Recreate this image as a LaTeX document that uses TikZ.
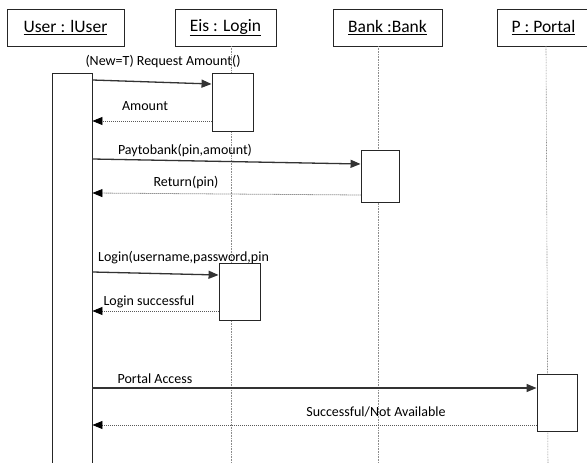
\documentclass[tikz,border=0pt]{standalone}
\usepackage{fontspec}
\setmainfont{Carlito}
\usetikzlibrary{arrows.meta}
\begin{document}
\begin{tikzpicture}[x=1pt,y=-1pt,
  head/.style={draw=black!85, line width=0.9pt, minimum height=37pt, inner sep=0pt, font=\fontsize{17.5}{20}\selectfont},
  act/.style={draw=black!85, fill=white, line width=0.9pt, inner sep=0pt},
  life/.style={draw=black!45, line width=0.6pt, dash pattern=on 0.8pt off 0.8pt},
  call/.style={draw=black!80, line width=1.3pt, -{Triangle[length=10pt,width=8pt]}},
  reply/.style={draw=black!65, line width=0.8pt, dash pattern=on 1pt off 1pt, -{Triangle[length=10pt,width=8pt,color=black,fill=black]}},
  lbl/.style={inner sep=0pt, font=\fontsize{14}{16}\selectfont, text=black},
]
\useasboundingbox (0,0) rectangle (587,463);
% heads
\node[head, minimum width=117pt] (user) at (65.5,27.5) {\underline{User : lUser}};
\node[head, minimum width=101pt] (eis) at (225.5,27.5) {\underline{Eis : Login}};
\node[head, minimum width=109pt] (bank) at (387.5,27.5) {\underline{Bank :Bank}};
\node[head, minimum width=93pt] (portal) at (543.5,27.5) {\underline{P : Portal}};
% lifelines
\coordinate (eisT) at (231,46);  \coordinate (eisB) at (231,470);
\coordinate (bankT) at (378,46); \coordinate (bankB) at (378,470);
\coordinate (porT) at (546,46);  \coordinate (porB) at (548,470);
\draw[life] (eisT) -- (eisB);
\draw[life] (bankT) -- (bankB);
\draw[life] (porT) -- (porB);
% activations
\node[act, minimum width=40pt, minimum height=402pt] (ua) at (72,274) {};
\node[act, minimum width=41pt, minimum height=58pt] (e1) at (232.5,102) {};
\node[act, minimum width=38pt, minimum height=52pt] (b1) at (380,176) {};
\node[act, minimum width=41pt, minimum height=57pt] (e2) at (239.5,291.5) {};
\node[act, minimum width=40pt, minimum height=57pt] (p1) at (557,402.5) {};
% messages
\node[lbl] (l1) at (163,62) {(New=T) Request Amount()};
\draw[call] (ua.east |- 0,80) -- (e1.west |- 0,84);
\node[lbl] (l2) at (145,106) {Amount};
\draw[reply] (e1.west |- 0,121) -- (ua.east |- 0,121);
\node[lbl] (l3) at (185,151) {Paytobank(pin,amount)};
\draw[call] (ua.east |- 0,159) -- (b1.west |- 0,164);
\node[lbl] (l4) at (186,183) {Return(pin)};
\draw[reply] (b1.west |- 0,195) -- (ua.east |- 0,193);
\node[lbl, anchor=west] (l5) at (98,258) {Login(username,password,pin};
\draw[call] (ua.east |- 0,272) -- (e2.west |- 0,275);
\node[lbl] (l6) at (149,302) {Login successful};
\draw[reply] (e2.west |- 0,311) -- (ua.east |- 0,311);
\node[lbl] (l7) at (155,379) {Portal Access};
\draw[call] (ua.east |- 0,388) -- (p1.west |- 0,388);
\node[lbl] (l8) at (376,412) {Successful/Not Available};
\draw[reply] (p1.west |- 0,425) -- (ua.east |- 0,425);
\end{tikzpicture}
\end{document}
